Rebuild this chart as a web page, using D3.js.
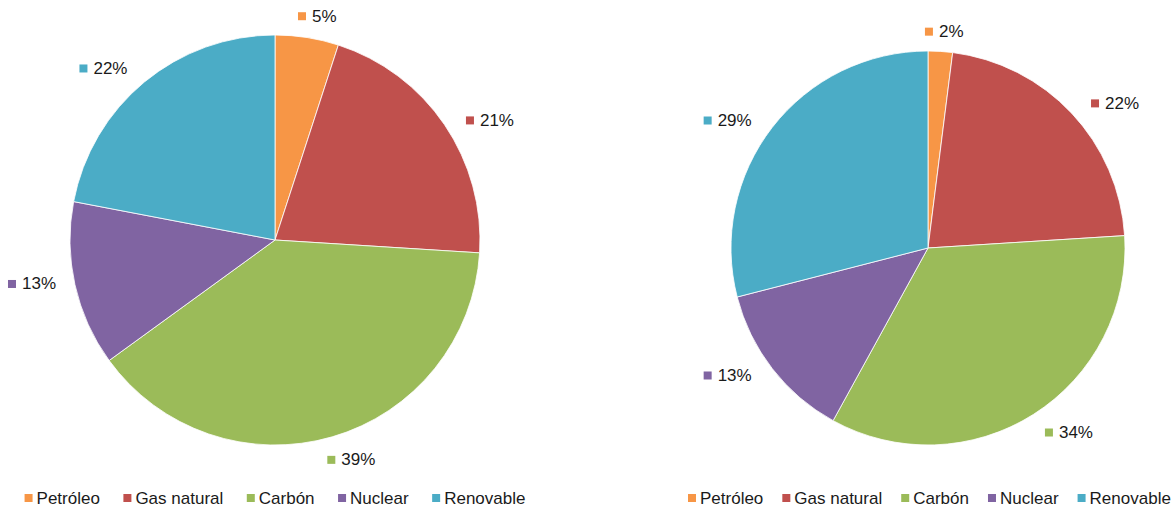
<!DOCTYPE html>
<html>
<head>
<meta charset="utf-8">
<script src="https://cdn.jsdelivr.net/npm/d3@7"></script>
<style>
  body { margin: 0; background: #fff; }
  text { font-family: "Liberation Sans", Arial, sans-serif; fill: #1a1a1a; }
</style>
</head>
<body>
<div id="chart"></div>
<script>
var WIDTH = 1173, HEIGHT = 506;

// Data
var categories = ['Petróleo', 'Gas natural', 'Carbón', 'Nuclear', 'Renovable'];
var colors = ['#F79646', '#C0504D', '#9BBB59', '#8064A2', '#4BACC6'];
var valuesLeft = [5, 21, 39, 13, 22];
var valuesRight = [2, 22, 34, 13, 29];

var FONT_SIZE = 17;
var SQ = 8;

var svg = d3.select('#chart').append('svg')
    .attr('width', WIDTH)
    .attr('height', HEIGHT);

var color = d3.scaleOrdinal().domain(categories).range(colors);

/**
 * Draws one pie with its outside labels and legend.
 * legendOpts = {x: left edge (null to center under pie), y: middle line, gap: space between items}
 */
var drawPie = function drawPie(values, cx, cy, radius, legendOpts) {
    var data = categories.map(function(c, i) { return {name: c, value: values[i]}; });
    var total = d3.sum(values);

    var pie = d3.pie().sort(null).value(function(d) { return d.value; });
    var arc = d3.arc().innerRadius(0).outerRadius(radius);

    var g = svg.append('g').attr('transform', 'translate(' + cx + ',' + cy + ')');

    g.selectAll('path.slice')
        .data(pie(data))
        .enter()
        .append('path')
            .classed('slice', true)
            .attr('d', arc)
            .style('fill', function(d) { return color(d.data.name); })
            .style('stroke', '#fff')
            .style('stroke-width', 0.8);

    // Labels: square + percentage, pushed out along the mid angle
    var labels = g.selectAll('g.label')
        .data(pie(data))
        .enter()
        .append('g')
            .classed('label', true);

    labels.append('rect')
        .attr('width', SQ).attr('height', SQ)
        .style('fill', function(d) { return color(d.data.name); });

    labels.append('text')
        .attr('x', SQ + 6)
        .attr('y', SQ / 2)
        .attr('dominant-baseline', 'central')
        .style('font-size', FONT_SIZE + 'px')
        .text(function(d) { return Math.round(d.data.value / total * 100) + '%'; });

    labels.each(function(d) {
        var node = d3.select(this);
        var tw = node.select('text').node().getComputedTextLength();
        var w = SQ + 6 + tw, h = 16;
        var a = (d.startAngle + d.endAngle) / 2;
        // labels lean a little toward the horizontal, like the original
        a += (5.5 * Math.PI / 180) * Math.sin(2 * a);
        var sx = Math.sin(a), sy = -Math.cos(a);
        var ext = Math.abs(sx) * w / 2 + Math.abs(sy) * h / 2;
        var gap = 10 + 7 * Math.abs(sx);
        var dist = radius + gap + ext;
        var x = sx * dist - w / 2, y = sy * dist - SQ / 2;
        node.attr('transform', 'translate(' + x + ',' + y + ')');
    });

    // Legend
    var legend = svg.append('g');
    var items = legend.selectAll('g.item')
        .data(categories)
        .enter()
        .append('g')
            .classed('item', true);

    items.append('rect')
        .attr('width', SQ).attr('height', SQ)
        .attr('y', -SQ / 2)
        .style('fill', function(d) { return color(d); });

    items.append('text')
        .attr('x', SQ + 4)
        .attr('dominant-baseline', 'central')
        .style('font-size', FONT_SIZE + 'px')
        .text(function(d) { return d; });

    var xPos = 0;
    items.each(function() {
        var node = d3.select(this);
        var tw = node.select('text').node().getComputedTextLength();
        node.attr('transform', 'translate(' + xPos + ',0)');
        xPos += SQ + 4 + tw + legendOpts.gap;
    });
    var legendW = xPos - legendOpts.gap;
    var lx = legendOpts.x === null ? cx - legendW / 2 : legendOpts.x;
    legend.attr('transform', 'translate(' + lx + ',' + legendOpts.y + ')');
};

drawPie(valuesLeft, 275, 240, 205, {x: null, y: 498, gap: 23.5});
drawPie(valuesRight, 928, 248, 197, {x: 688, y: 498, gap: 19});
</script>
</body>
</html>
